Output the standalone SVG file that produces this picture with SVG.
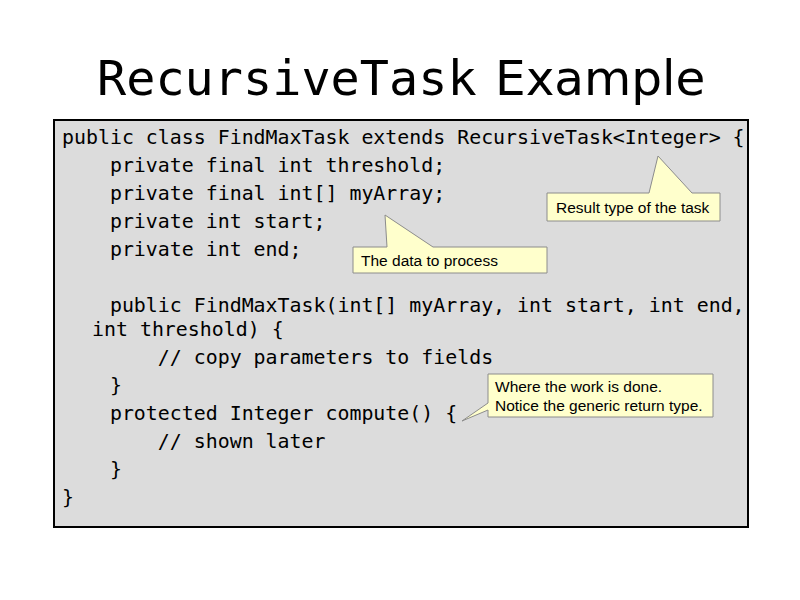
<svg xmlns="http://www.w3.org/2000/svg" width="800" height="600" viewBox="0 0 800 600">
<style>
.code{font-family:"DejaVu Sans Mono","Liberation Mono",monospace;font-size:19.9px;fill:#000;white-space:pre}
.note{font-family:"Liberation Sans",Arial,sans-serif;font-size:15.5px;fill:#000}
.call{fill:#ffffcc;stroke:#8c8c8c;stroke-width:1}
</style>
<rect width="800" height="600" fill="#ffffff"/>
<g id="title">
<text x="97" y="95" font-size="48.5" font-family="DejaVu Sans Mono,monospace">RecursiveTask</text>
<text x="495" y="95" font-size="48.5" font-family="DejaVu Sans,sans-serif">Example</text>
</g>
<g id="codebox">
<rect x="54" y="120" width="694" height="407" fill="#dcdcdc" stroke="#000" stroke-width="2"/>
<text class="code" x="62" y="144" xml:space="preserve">public class FindMaxTask extends RecursiveTask&lt;Integer&gt; {</text>
<text class="code" x="62" y="172" xml:space="preserve">    private final int threshold;</text>
<text class="code" x="62" y="200" xml:space="preserve">    private final int[] myArray;</text>
<text class="code" x="62" y="228" xml:space="preserve">    private int start;</text>
<text class="code" x="62" y="256" xml:space="preserve">    private int end;</text>
<text class="code" x="62" y="312" xml:space="preserve">    public FindMaxTask(int[] myArray, int start, int end,</text>
<text class="code" x="92" y="336" xml:space="preserve">int threshold) {</text>
<text class="code" x="62" y="364" xml:space="preserve">        // copy parameters to fields</text>
<text class="code" x="62" y="392" xml:space="preserve">    }</text>
<text class="code" x="62" y="420" xml:space="preserve">    protected Integer compute() {</text>
<text class="code" x="62" y="448" xml:space="preserve">        // shown later</text>
<text class="code" x="62" y="476" xml:space="preserve">    }</text>
<text class="code" x="62" y="504" xml:space="preserve">}</text>
</g>
<g id="callout-result">
<path class="call" d="M547,193 H649 L658,156 L692,193 H720 V221 H547 Z"/>
<text class="note" x="556" y="213">Result type of the task</text>
</g>
<g id="callout-data">
<path class="call" d="M353,247 H387 L385,215 L433,247 H547 V273 H353 Z"/>
<text class="note" x="361" y="266">The data to process</text>
</g>
<g id="callout-work">
<path class="call" d="M488,374 H713 V417 H488 V410 L462,421 L488,403 Z"/>
<text class="note" x="495" y="392">Where the work is done.</text>
<text class="note" x="495" y="411">Notice the generic return type.</text>
</g>
</svg>
